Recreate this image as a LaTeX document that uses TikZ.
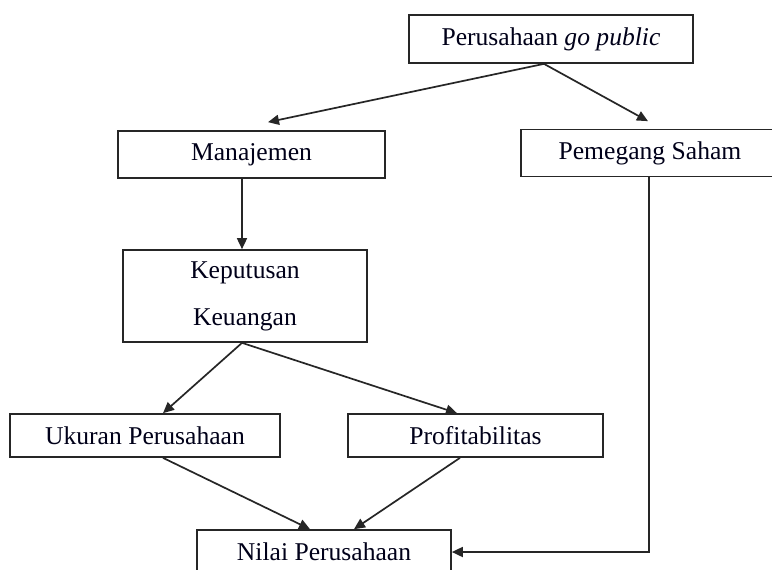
\documentclass[tikz,border=0pt]{standalone}
\usepackage{fontspec}
\setmainfont{Liberation Serif}
\usetikzlibrary{arrows.meta,calc}
\tikzset{
  box/.style={draw=black!85,line width=0.85pt,rectangle,inner sep=0pt,font=\fontsize{12.8}{15}\selectfont,text=black!90!blue},
  conn/.style={draw=black!85,line width=0.85pt,-{Triangle[length=5.5pt,width=5pt]}}
}
\begin{document}
\begin{tikzpicture}[x=0.5pt,y=-0.5pt]
\useasboundingbox (0,0) rectangle (772,569);
\clip (0,0) rectangle (772,569);
\fill[white] (0,0) rectangle (772,569);
\node[box,minimum width=142pt,minimum height=24pt] (top) at (551,39) {Perusahaan \textit{go public}};
\node[box,minimum width=133.5pt,minimum height=23.5pt] (man) at (251.5,154.5) {Manajemen};
\node[box,minimum width=129pt,minimum height=23.5pt] (pem) at (650,153) {Pemegang Saham};
\node[box,minimum width=122pt,minimum height=46pt,align=center] (kep) at (245,296) {Keputusan\\[8.5pt]Keuangan};
\node[box,minimum width=135pt,minimum height=21.5pt] (uk) at (145,435.5) {Ukuran Perusahaan};
\node[box,minimum width=127.5pt,minimum height=21.5pt] (prof) at (475.5,435.5) {Profitabilitas};
\node[box,minimum width=127pt,minimum height=22pt] (nil) at (324,552) {Nilai Perusahaan};
\draw[conn] ($(top.south)+(-7,0)$) -- ($(man.north)+(16.5,-8)$);
\draw[conn] ($(top.south)+(-7,0)$) -- ($(pem.north)+(-2,-7.5)$);
\draw[conn] ($(man.south)+(-9.5,0)$) -- ($(kep.north)+(-3,0)$);
\draw[conn] ($(kep.south)+(-3,0)$) -- ($(uk.north)+(18,0)$);
\draw[conn] ($(kep.south)+(-3,0)$) -- ($(prof.north)+(-18.5,0)$);
\draw[conn] ($(uk.south)+(18,0)$) -- ($(nil.north)+(-14,0)$);
\draw[conn] ($(prof.south)+(-15.5,0)$) -- ($(nil.north)+(30,0)$);
\draw[conn] ($(pem.south)+(-1,0)$) |- (nil.east);
\end{tikzpicture}
\end{document}
